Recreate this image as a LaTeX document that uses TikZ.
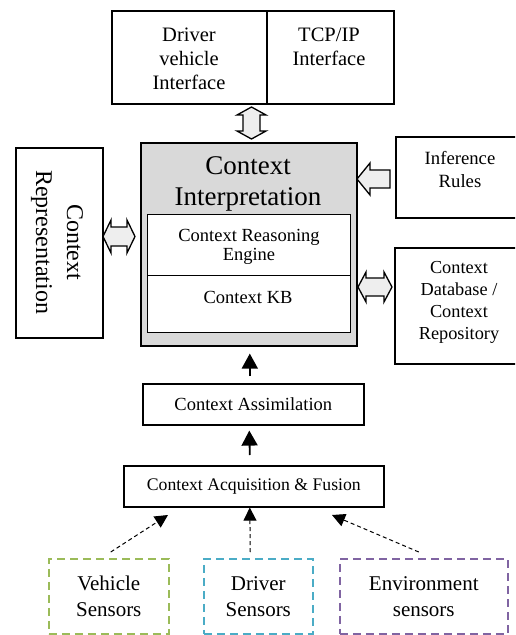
\documentclass[tikz,border=0pt]{standalone}
\usepackage{fontspec}
\setmainfont{Liberation Serif}
\usetikzlibrary{arrows.meta,calc}
\definecolor{maingray}{RGB}{217,217,217}
\definecolor{arrowfill}{RGB}{238,238,238}
\definecolor{vgreen}{RGB}{155,187,89}
\definecolor{dcyan}{RGB}{75,172,198}
\definecolor{epurple}{RGB}{128,100,162}
\tikzset{
  box/.style={draw=black, line width=1.6pt, inner sep=0pt, align=center},
  txt/.style={inner sep=0pt, align=center},
  sensorbox/.style={draw, line width=1.5pt, dash pattern=on 8pt off 5pt, inner sep=0pt, align=center, font=\fontsize{21}{26}\selectfont},
  blk/.style={draw=black, line width=1.3pt, fill=arrowfill, line join=miter},
  solidarrow/.style={line width=1.8pt, -{Triangle[width=16pt,length=15pt]}},
  dasharrow/.style={line width=1pt, dash pattern=on 4pt off 3pt, -{Triangle[width=13pt,length=13pt]}},
}
\begin{document}
\begin{tikzpicture}[x=1pt,y=-1pt]
\clip (0,0) rectangle (515,635);
\path[use as bounding box] (0,0) rectangle (515,635);
% top boxes
\node[box, anchor=north west, minimum width=155pt, minimum height=93pt] (dvi) at (111,10) {};
\node[box, anchor=north west, minimum width=127pt, minimum height=93pt] (tcp) at (266,10) {};
\node[txt, font=\fontsize{20.5}{24}\selectfont] (dvit) at (189,59) {Driver\\vehicle\\Interface};
\node[txt, font=\fontsize{20.5}{24}\selectfont] (tcpt) at (329,47) {TCP/IP\\Interface};
% main
\node[box, fill=maingray, anchor=north west, minimum width=216pt, minimum height=203pt] (main) at (140,142) {};
\node[txt, font=\fontsize{27}{31}\selectfont] (maint) at (248,184) {Context\\Interpretation};
\node[box, fill=white, anchor=north west, minimum width=203pt, minimum height=61pt, line width=1.3pt] (cre) at (147,214) {};
\node[box, fill=white, anchor=north west, minimum width=203pt, minimum height=57pt, line width=1.3pt] (ckb) at (147,275) {};
\node[txt, font=\fontsize{18.5}{19.5}\selectfont] (cret) at (249,247) {Context Reasoning\\Engine};
\node[txt, font=\fontsize{18.5}{20}\selectfont] (ckbt) at (248,297) {Context KB};
% left
\node[box, anchor=north west, minimum width=87pt, minimum height=190pt] (crep) at (15,147) {};
\node[txt, rotate=-90, font=\fontsize{24}{31}\selectfont] (crept) at (57,242) {Context\\Representation};
% right
\node[box, anchor=north west, minimum width=135pt, minimum height=81pt] (inf) at (395,136) {};
\node[txt, font=\fontsize{18.7}{23}\selectfont] (inft) at (460,170) {Inference\\Rules};
\node[box, anchor=north west, minimum width=135pt, minimum height=116pt] (cdb) at (394,247) {};
\node[txt, font=\fontsize{18.3}{22}\selectfont] (cdbt) at (459,302) {Context\\Database /\\Context\\Repository};
% bottom chain
\node[box, anchor=north west, minimum width=221pt, minimum height=41pt, font=\fontsize{18.5}{20}\selectfont] (ass) at (142,383) {Context Assimilation};
\node[box, anchor=north west, minimum width=260pt, minimum height=41pt, font=\fontsize{17.7}{20}\selectfont] (acq) at (123,465) {Context Acquisition \& Fusion};
% sensors
\node[sensorbox, draw=vgreen, anchor=north west, minimum width=120pt, minimum height=75pt] (vs) at (48,558) {Vehicle\\Sensors};
\node[sensorbox, draw=dcyan, anchor=north west, minimum width=109pt, minimum height=75pt] (ds) at (203,558) {Driver\\Sensors};
\node[sensorbox, draw=epurple, anchor=north west, minimum width=168pt, minimum height=75pt] (es) at (339,558) {Environment\\sensors};
% arrows
\draw[solidarrow] ($(ass.north)+(-3.5,-7)$) -- ($(main.south)+(1,7)$);
\draw[solidarrow] ($(acq.north)+(-4,-10)$) -- ($(ass.south)+(-4,5)$);
\draw[dasharrow] ($(vs.north)+(2,-6)$) -- (168,515);
\draw[dasharrow] ($(ds.north)+(-8,-6)$) -- ($(acq.south)+(-4,0)$);
\draw[dasharrow] ($(es.north)+(-5,-6)$) -- (332,515);
% block arrows
\coordinate (vd) at (251.5,123);
\draw[blk] ($(vd)+(0,-16)$) -- ++(14.5,8) -- ++(-6,0) -- ++(0,16) -- ++(6,0) -- ++(-14.5,8) -- ++(-14.5,-8) -- ++(6,0) -- ++(0,-16) -- ++(-6,0) -- cycle;
\coordinate (ld) at (119,236.5);
\draw[blk] ($(ld)+(-16,0)$) -- ++(8,-16.5) -- ++(0,7) -- ++(16,0) -- ++(0,-7) -- ++(8,16.5) -- ++(-8,16.5) -- ++(0,-7) -- ++(-16,0) -- ++(0,7) -- cycle;
\coordinate (rd) at (375,287);
\draw[blk] ($(rd)+(-17,0)$) -- ++(8,-15) -- ++(0,6) -- ++(18,0) -- ++(0,-6) -- ++(8,15) -- ++(-8,15) -- ++(0,-6) -- ++(-18,0) -- ++(0,6) -- cycle;
\coordinate (ia) at (357,179);
\draw[blk] (ia) -- ++(13,-16) -- ++(0,7) -- ++(20,0) -- ++(0,18) -- ++(-20,0) -- ++(0,7) -- cycle;
\end{tikzpicture}
\end{document}
